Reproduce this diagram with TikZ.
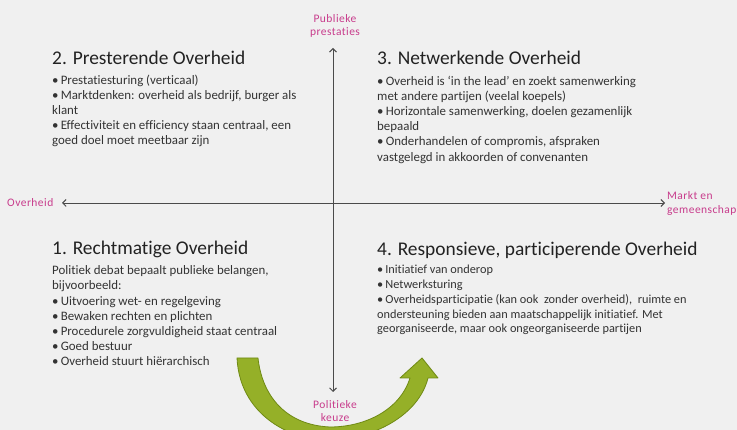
\documentclass[tikz,border=0pt]{standalone}
\usepackage{fontspec}
\setmainfont{Carlito}[Ligatures=NoCommon]
\newfontfamily\lblfont[LetterSpace=4,Ligatures=NoCommon]{Carlito}
\usetikzlibrary{arrows.meta}
\definecolor{bg}{HTML}{F0F0F0}
\definecolor{axiscol}{HTML}{4A4A4A}
\definecolor{lbl}{HTML}{C83C8C}
\definecolor{txt}{HTML}{333333}
\definecolor{ttl}{HTML}{222222}
\definecolor{grn}{HTML}{95B028}
\definecolor{grnd}{HTML}{6F8A14}
\begin{document}
\begin{tikzpicture}[x=1pt,y=-1pt,
  axislbl/.style={text=lbl,font=\lblfont\fontsize{11.5}{13.5}\selectfont,align=center,inner sep=0},
  ttlnode/.style={anchor=base west,text=ttl,font=\fontsize{19.4}{22}\selectfont,inner sep=0},
  bodynode/.style={anchor=north west,text=txt,font=\fontsize{12.9}{15.2}\selectfont,align=left,inner sep=0},
  axisline/.style={draw=axiscol,line width=0.9pt,{Straight Barb[length=3.5pt,width=7pt]}-{Straight Barb[length=3.5pt,width=7pt]}},
  bigarrow/.style={fill=grn,draw=grnd,line width=0.8pt,line join=round}]
\useasboundingbox (0,0) rectangle (737,430);
\clip (0,0) rectangle (737,430);
\fill[bg] (0,0) rectangle (737,430);

% axis labels
\node[axislbl] (pub) at (335,26) {Publieke\\prestaties};
\node[axislbl] (pol) at (335,411) {Politieke\\keuze};
\node[axislbl,anchor=west] (ovh) at (7,203) {Overheid};
\node[axislbl,anchor=west,align=left] (mkt) at (667,203.5) {Markt en\\gemeenschap};

% axes
\coordinate (vtop) at (333,48);
\coordinate (vbot) at (333,392);
\coordinate (hl) at (62,203);
\coordinate (hr) at (665,203);
\draw[axisline] (vbot) -- (vtop);
\draw[axisline] (hl) -- (hr);

% quadrant 2
\node[ttlnode] (t2) at (52,65) {2. Presterende Overheid};
\node[bodynode] (b2) at (52,74.5) {•\,Prestatiesturing (verticaal)\\
•\,Marktdenken: overheid als bedrijf, burger als\\
klant\\
•\,Effectiviteit en efficiency staan centraal, een\\
goed doel moet meetbaar zijn};

% quadrant 3
\node[ttlnode] (t3) at (377,65) {3. Netwerkende Overheid};
\node[bodynode] (b3) at (377,75.5) {•\,Overheid is ‘in the lead’ en zoekt samenwerking\\
met andere partijen (veelal koepels)\\
•\,Horizontale samenwerking, doelen gezamenlijk\\
bepaald\\
•\,Onderhandelen of compromis, afspraken\\
vastgelegd in akkoorden of convenanten};

% quadrant 1
\node[ttlnode] (t1) at (52,255) {1. Rechtmatige Overheid};
\node[bodynode] (b1) at (52,265.5) {Politiek debat bepaalt publieke belangen,\\
bijvoorbeeld:\\
•\,Uitvoering wet- en regelgeving\\
•\,Bewaken rechten en plichten\\
•\,Procedurele zorgvuldigheid staat centraal\\
•\,Goed bestuur\\
•\,Overheid stuurt hiërarchisch};

% quadrant 4
\node[ttlnode] (t4) at (377,256) {4. Responsieve, participerende Overheid};
\node[bodynode,font=\fontsize{12.3}{14.8}\selectfont] (b4) at (377,265) {•\,Initiatief van onderop\\
•\,Netwerksturing\\
•\,Overheidsparticipatie (kan ook\ \ zonder overheid),\ \ ruimte en\\
ondersteuning bieden aan maatschappelijk initiatief. Met\\
georganiseerde, maar ook ongeorganiseerde partijen};

% green curved arrow
\path[bigarrow] (237,358) .. controls (240,420) and (300,445) .. (340,440)
  .. controls (385,434) and (420,410) .. (428,378)
  -- (438,378) -- (422,358) -- (400,378) -- (410,378)
  .. controls (400,410) and (365,427) .. (330,427)
  .. controls (285,425) and (262,395) .. (258,358) -- cycle;
\end{tikzpicture}
\end{document}
